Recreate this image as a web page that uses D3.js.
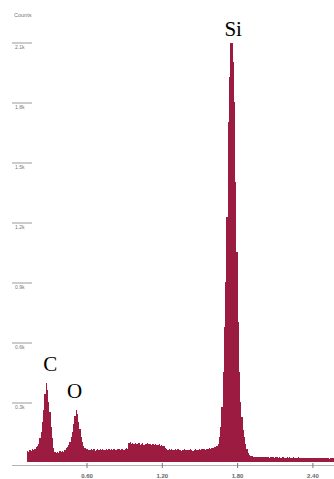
<!DOCTYPE html>
<html>
<head>
<meta charset="utf-8">
<script src="https://cdn.jsdelivr.net/npm/d3@7"></script>
<style>
  html, body { margin: 0; padding: 0; background: #fff; }
  svg { display: block; }
</style>
</head>
<body>
<svg id="chart" width="334" height="479"></svg>
<script>
// ---- data ----
const startKeV = 0.12;      // energy of first channel
const binKeV = 0.01;        // channel width (keV)
const counts = [
  // 0.12 - 0.60 (C and O peaks)
  55,50,60,55,65,60,65,75,80,90,120,150,200,260,340,395,360,300,250,175,120,70,50,45,50,45,55,50,55,50,60,70,75,85,100,125,150,190,230,260,240,200,165,125,100,80,70,65,65,
  // 0.61 - 0.92
  62,58,64,60,63,57,62,65,59,63,60,64,58,62,66,60,63,59,64,61,65,62,60,66,63,61,64,67,62,65,68,66,
  // 0.93 - 1.21
  95,100,92,96,90,94,88,92,95,87,90,93,86,91,89,94,88,92,87,90,85,89,86,84,88,82,85,80,78,
  // 1.22 - 1.61
  70,65,62,66,60,64,61,58,63,60,65,59,62,57,61,64,60,58,62,59,63,60,57,61,64,60,62,65,61,63,66,64,62,67,65,68,66,70,72,74,
  // 1.62 - 1.90 (Si peak)
  75,80,90,125,175,275,450,675,900,1225,1700,1925,2095,2095,2000,1800,1400,1050,700,450,300,225,160,125,90,65,45,35,30,
  // 1.91 - 2.57
  28,26,27,25,26,24,27,25,24,26,23,25,24,26,22,25,23,24,22,25,23,21,24,22,23,25,21,22,24,20,
  23,22,21,23,20,22,21,23,20,22,19,21,22,20,21,19,22,20,18,21,20,19,21,18,20,19,21,18,20,19,
  18,20,17,19,18,20,18
];
const xTicks = [0.60, 1.20, 1.80, 2.40];
const xTickLabels = ["0.60", "1.20", "1.80", "2.40"];
const yTicks = [300, 600, 900, 1200, 1500, 1800, 2100];
const yTickLabels = ["0.3k", "0.6k", "0.9k", "1.2k", "1.5k", "1.8k", "2.1k"];
const peakLabels = ["C", "O", "Si"];
const peakKeV = [0.307, 0.502, 1.765];
const peakCounts = [455, 320, 2130];
const yAxisTitle = "Counts";

// ---- scales ----
const svg = d3.select("#chart");
const x = d3.scaleLinear().domain([0, 2.6]).range([11.7, 11.7 + 125.5 * 2.6]);
const y = d3.scaleLinear().domain([0, 2100]).range([462, 42]);

const pts = counts.map((c, i) => ({ e: startKeV + i * binKeV, c }));
pts.push({ e: startKeV + counts.length * binKeV, c: counts[counts.length - 1] });

// ---- spectrum ----
const area = d3.area()
  .x(d => x(d.e))
  .y0(y(0))
  .y1(d => y(d.c))
  .curve(d3.curveStepAfter);

svg.append("path")
  .datum(pts)
  .attr("d", area)
  .attr("fill", "#9b1c40")
  .attr("stroke", "none")
  .attr("shape-rendering", "crispEdges");

// ---- x axis ----
const axisY = y(0) + 3.5;
svg.append("line")
  .attr("x1", 12).attr("x2", 334)
  .attr("y1", axisY).attr("y2", axisY)
  .attr("stroke", "#b4b4b4").attr("stroke-width", 1.2);

const xg = svg.append("g");
xg.selectAll("line.xt").data(xTicks).join("line")
  .attr("x1", d => x(d)).attr("x2", d => x(d))
  .attr("y1", axisY - 2.5).attr("y2", axisY + 2.5)
  .attr("stroke", "#777").attr("stroke-width", 1);
xg.selectAll("text").data(xTicks).join("text")
  .attr("x", d => x(d)).attr("y", 478)
  .attr("text-anchor", "middle")
  .attr("font-family", "Liberation Sans, Arial, sans-serif")
  .attr("font-size", 6).attr("font-weight", "bold")
  .attr("fill", "#666")
  .text((d, i) => xTickLabels[i]);

// ---- y ticks ----
const yg = svg.append("g");
yg.selectAll("line").data(yTicks).join("line")
  .attr("x1", 12).attr("x2", 32)
  .attr("y1", d => y(d) + 1).attr("y2", d => y(d) + 1)
  .attr("stroke", "#999").attr("stroke-width", 1);
yg.selectAll("text").data(yTicks).join("text")
  .attr("x", 15).attr("y", d => y(d) + 7)
  .attr("font-family", "Liberation Sans, Arial, sans-serif")
  .attr("font-size", 5)
  .attr("fill", "#777")
  .text((d, i) => yTickLabels[i]);

svg.append("text")
  .attr("x", 14).attr("y", 17)
  .attr("font-family", "Liberation Sans, Arial, sans-serif")
  .attr("font-size", 5.5)
  .attr("fill", "#777")
  .text(yAxisTitle);

// ---- peak labels ----
svg.selectAll("text.peak").data(peakLabels).join("text")
  .attr("class", "peak")
  .attr("x", (d, i) => x(peakKeV[i]))
  .attr("y", (d, i) => y(peakCounts[i]))
  .attr("text-anchor", "middle")
  .attr("font-family", "Liberation Serif, Times New Roman, serif")
  .attr("font-size", 21)
  .attr("fill", "#000")
  .text(d => d);
</script>
</body>
</html>
